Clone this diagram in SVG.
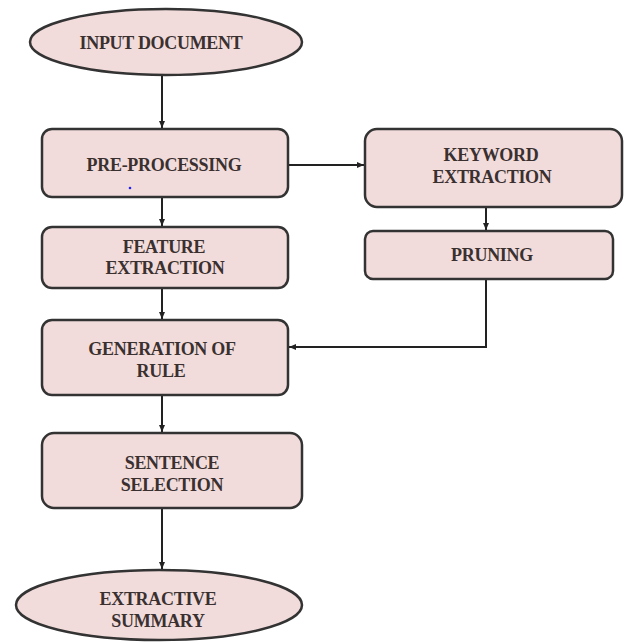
<svg xmlns="http://www.w3.org/2000/svg" width="624" height="644" viewBox="0 0 624 644">
<style>
.n{fill:#f2dcdb;stroke:#333;stroke-width:2.5}
.t{font-family:"Liberation Serif","Times New Roman",serif;font-weight:bold;font-size:18px;fill:#3a3030;text-anchor:middle;letter-spacing:-0.3px}
.c{fill:none;stroke:#222;stroke-width:2}
</style>
<defs>
<marker id="ah" markerWidth="8" markerHeight="8" refX="7" refY="4" orient="auto" markerUnits="userSpaceOnUse">
<path d="M0,1 L7,4 L0,7 Z" fill="#222"/>
</marker>
</defs>
<rect width="624" height="644" fill="#fff"/>
<g id="connectors">
<line class="c" x1="162" y1="75" x2="162" y2="128" marker-end="url(#ah)"/>
<line class="c" x1="162" y1="197" x2="162" y2="226" marker-end="url(#ah)"/>
<line class="c" x1="162" y1="288" x2="162" y2="319" marker-end="url(#ah)"/>
<line class="c" x1="162" y1="395" x2="162" y2="432" marker-end="url(#ah)"/>
<line class="c" x1="162" y1="508" x2="162" y2="569" marker-end="url(#ah)"/>
<line class="c" x1="288" y1="165" x2="364" y2="165" marker-end="url(#ah)"/>
<line class="c" x1="486" y1="207" x2="486" y2="230" marker-end="url(#ah)"/>
<polyline class="c" points="486,279 486,347 289,347" marker-end="url(#ah)"/>
</g>
<g id="input">
<ellipse class="n" cx="166" cy="42" rx="136" ry="33"/>
<text class="t" x="161" y="49">INPUT DOCUMENT</text>
</g>
<g id="preprocessing">
<rect class="n" x="42" y="129" width="246" height="68" rx="10"/>
<text class="t" x="164" y="171">PRE-PROCESSING</text>
<circle cx="130" cy="188" r="1.3" fill="#2222ff"/>
</g>
<g id="feature">
<rect class="n" x="42" y="227" width="246" height="61" rx="10"/>
<text class="t" x="164" y="253">FEATURE</text>
<text class="t" x="165" y="274">EXTRACTION</text>
</g>
<g id="generation">
<rect class="n" x="42" y="320" width="246" height="75" rx="10"/>
<text class="t" x="162" y="355">GENERATION OF</text>
<text class="t" x="161" y="377">RULE</text>
</g>
<g id="sentence">
<rect class="n" x="42" y="433" width="260" height="75" rx="12"/>
<text class="t" x="172" y="469">SENTENCE</text>
<text class="t" x="172" y="491">SELECTION</text>
</g>
<g id="summary">
<ellipse class="n" cx="159" cy="605" rx="143" ry="35"/>
<text class="t" x="158" y="605">EXTRACTIVE</text>
<text class="t" x="158" y="627">SUMMARY</text>
</g>
<g id="keyword">
<rect class="n" x="365" y="129" width="257" height="78" rx="12"/>
<text class="t" x="491" y="161">KEYWORD</text>
<text class="t" x="492" y="183">EXTRACTION</text>
</g>
<g id="pruning">
<rect class="n" x="365" y="231" width="248" height="48" rx="8"/>
<text class="t" x="492" y="261">PRUNING</text>
</g>
</svg>
